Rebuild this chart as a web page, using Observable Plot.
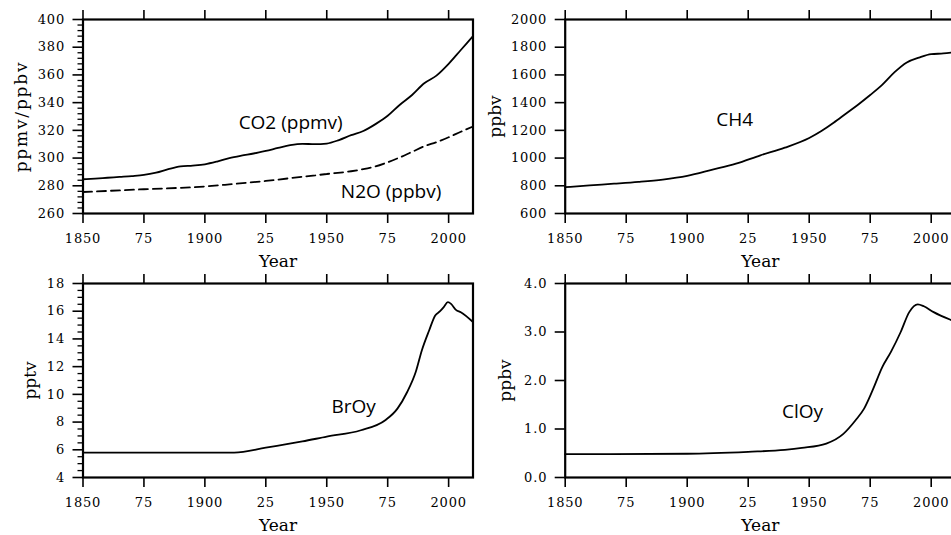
<!DOCTYPE html>
<html><head><meta charset="utf-8">
<script src="https://cdn.jsdelivr.net/npm/d3@7"></script>
<script src="https://cdn.jsdelivr.net/npm/@observablehq/plot@0.6"></script>
<style>
html,body{margin:0;padding:0;background:#fff;overflow:hidden}
#wrap{position:relative;width:951px;height:535px;overflow:hidden;background:#fff}
#wrap > svg{position:absolute}
g[aria-label$="tick label"] text{letter-spacing:0.8px}
</style></head><body><div id="wrap"></div>
<script>
// ---------- data ----------
const xTicks = [1850, 1875, 1900, 1925, 1950, 1975, 2000];
const xTickLabels = ["1850", "75", "1900", "25", "1950", "75", "2000"];

const co2Years  = [1850,1855,1860,1865,1870,1875,1880,1885,1890,1895,1900,1905,1910,1915,1920,1925,1930,1935,1940,1945,1950,1955,1960,1965,1970,1975,1980,1985,1990,1995,2000,2005,2010];
const co2Values = [284.7,285.2,285.8,286.4,287.0,287.8,289.5,292.0,294.0,294.6,295.5,297.5,300.0,301.8,303.3,305.2,307.3,309.3,310.3,310.0,310.5,313.0,316.5,319.5,324.5,330.5,338.5,345.5,354.0,359.5,368.0,378.0,388.0];

const n2oYears  = [1850,1875,1900,1910,1925,1940,1950,1960,1965,1970,1975,1980,1985,1990,1995,2000,2005,2010];
const n2oValues = [275.5,277.5,279.5,281.0,283.5,286.5,288.5,290.5,292.0,294.0,297.0,300.5,304.5,308.5,311.5,315.0,319.0,322.8];

const ch4Years  = [1850,1860,1870,1880,1890,1900,1910,1920,1930,1940,1950,1955,1960,1965,1970,1975,1980,1985,1990,1995,2000,2005,2010];
const ch4Values = [790,803,815,828,845,872,915,960,1020,1075,1145,1195,1255,1320,1385,1455,1530,1620,1690,1725,1750,1755,1765];

const broyYears  = [1850,1912,1925,1940,1950,1964,1974,1979,1983,1986.5,1989,1992,1994.5,1996.5,1998,1999.7,2001,2003,2005,2010];
const broyValues = [5.8,5.8,6.15,6.6,6.95,7.41,8.13,8.97,10.17,11.61,13.17,14.61,15.69,16.0,16.29,16.65,16.53,16.1,15.93,15.22];

const cloyYears  = [1850,1900,1925,1940,1947,1957,1964,1969,1972.5,1976,1980,1983.5,1987.5,1991,1994.5,1997,2001,2008,2010];
const cloyValues = [0.48,0.49,0.53,0.57,0.61,0.70,0.90,1.18,1.42,1.80,2.28,2.59,3.0,3.41,3.57,3.53,3.41,3.25,3.21];

const p1Ticks = [260,280,300,320,340,360,380,400];
const p2Ticks = [600,800,1000,1200,1400,1600,1800,2000];
const p3Ticks = [4,6,8,10,12,14,16,18];
const p4Ticks = [0,1,2,3,4];
const p4TickLabels = ["0.0","1.0","2.0","3.0","4.0"];

const notes1 = [{year:1935.2, value:325.2, text:"CO2 (ppmv)"},{year:1976.4, value:275.4, text:"N2O (ppbv)"}];
const notes2 = [{year:1919.5, value:1279, text:"CH4"}];
const notes3 = [{year:1961, value:9.1, text:"BrOy"}];
const notes4 = [{year:1947.3, value:1.36, text:"ClOy"}];

const toRows = (ys, vs) => ys.map((y, i) => ({year: y, value: vs[i]}));

// ---------- drawing ----------
const wrap = document.getElementById("wrap");
function panel(o) {
  const svg = Plot.plot({
    width: 480, height: 270,
    marginLeft: o.mL, marginRight: o.mR, marginTop: o.mT, marginBottom: o.mB,
    style: {fontFamily: "DejaVu Serif", fontSize: "13px", background: "transparent", color: "#000"},
    x: {domain: [1850, 2010]},
    y: {domain: o.yDomain},
    marks: [
      Plot.axisX(xTicks, {anchor: "bottom", tickSize: 10, tickPadding: 10, strokeWidth: 1.6,
        tickFormat: d => xTickLabels[xTicks.indexOf(d)], label: null}),
      Plot.axisX(xTicks, {anchor: "top", tickSize: 10, strokeWidth: 1.6, fill: "none", label: null}),
      o.yMinor ? Plot.axisY(o.yMinor, {tickSize: 5, strokeWidth: 1.3, fill: "none", label: null}) : null,
      Plot.axisY(o.yTicks, {tickSize: 10, tickPadding: 8, strokeWidth: 1.6,
        tickFormat: o.yFmt || (d => String(d)), label: null}),
      Plot.frame({stroke: "#000", strokeWidth: 2.2}),
      ...o.series.map(s => Plot.line(s.rows, {x: "year", y: "value", stroke: "#000", strokeWidth: 1.8,
        strokeDasharray: s.dash, curve: "monotone-x"})),
      Plot.text(o.notes, {x: "year", y: "value", text: "text", fontFamily: "Open Sans", fontSize: 19, fill: "#000"}),
      Plot.text(["Year"], {frameAnchor: "bottom", lineAnchor: "middle", textAnchor: "middle", dy: 48.5,
        text: d => d, fontSize: 17, fill: "#000"}),
      Plot.text([o.yLabel], {frameAnchor: "left", textAnchor: "middle", lineAnchor: "middle", dx: o.yLabelDx,
        rotate: -90, text: d => d, fontSize: 17, fill: "#000"})
    ]
  });
  if (o.yLabelSpacing) {
    d3.select(svg).selectAll("text").filter(function () { return this.textContent === o.yLabel; })
      .style("letter-spacing", o.yLabelSpacing);
  }
  svg.style.left = o.left + "px";
  svg.style.top = o.top + "px";
  wrap.appendChild(svg);
}

panel({left: 0, top: 0, mL: 82.5, mR: 7.5, mT: 19, mB: 57,
  yDomain: [260, 400], yTicks: p1Ticks,
  yMinor: d3.range(264, 400, 4).filter(v => v % 20 !== 0),
  yLabel: "ppmv/ppbv", yLabelDx: -61, yLabelSpacing: "1.8px",
  series: [{rows: toRows(co2Years, co2Values)}, {rows: toRows(n2oYears, n2oValues), dash: "9,5"}],
  notes: notes1});

panel({left: 480, top: 0, mL: 84.7, mR: 4.9, mT: 19, mB: 57,
  yDomain: [600, 2000], yTicks: p2Ticks,
  yLabel: "ppbv", yLabelDx: -70,
  series: [{rows: toRows(ch4Years, ch4Values)}],
  notes: notes2});

panel({left: 0, top: 265, mL: 82.5, mR: 7.5, mT: 18, mB: 58,
  yDomain: [4, 18], yTicks: p3Ticks,
  yMinor: d3.range(4.5, 18, 0.5).filter(v => v % 2 !== 0),
  yLabel: "pptv", yLabelDx: -52.5,
  series: [{rows: toRows(broyYears, broyValues)}],
  notes: notes3});

panel({left: 480, top: 265, mL: 84.7, mR: 4.9, mT: 18, mB: 58,
  yDomain: [0, 4], yTicks: p4Ticks, yFmt: d => p4TickLabels[p4Ticks.indexOf(d)],
  yLabel: "ppbv", yLabelDx: -60,
  series: [{rows: toRows(cloyYears, cloyValues)}],
  notes: notes4});
</script></body></html>
